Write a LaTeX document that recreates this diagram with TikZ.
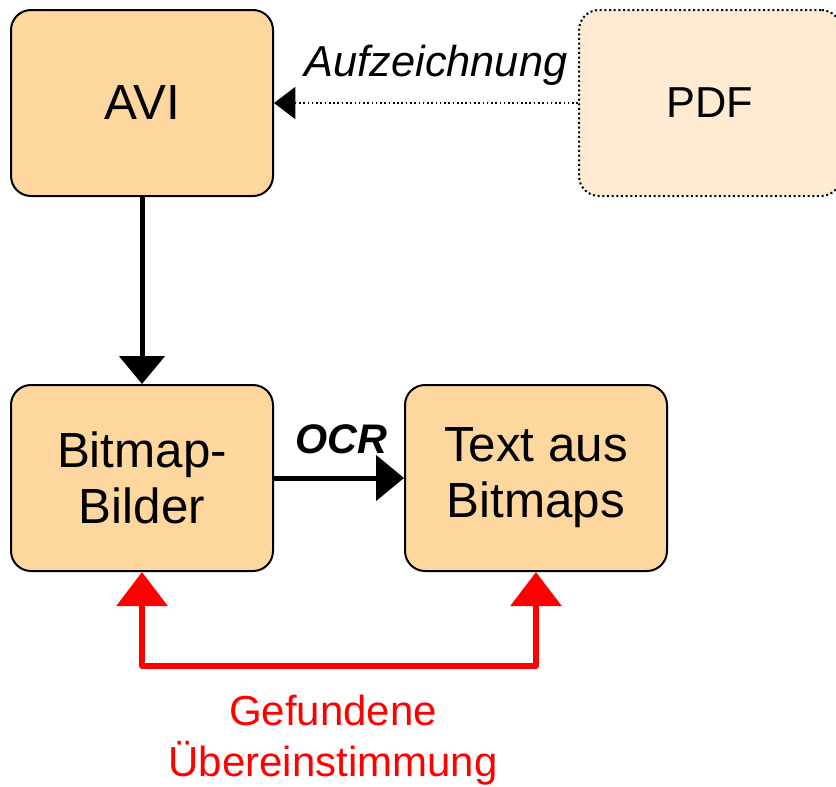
\documentclass[tikz,border=0pt]{standalone}
\usepackage{fontspec}
\setmainfont{Liberation Sans}
\usetikzlibrary{arrows.meta,positioning}
\definecolor{boxfill}{RGB}{253,215,157}
\definecolor{pdffill}{RGB}{255,235,209}
\tikzstyle{stage}=[draw=black,line width=1.5pt,fill=boxfill,rounded corners=15pt,minimum width=196.5pt,minimum height=139.5pt,inner sep=0pt,align=center,font=\fontsize{37}{42}\selectfont]
\tikzstyle{source}=[stage,fill=pdffill,dotted,font=\fontsize{32.5}{38}\selectfont]
\tikzstyle{flow}=[line width=3.75pt,-{Triangle[width=33.75pt,length=21pt]}]
\tikzstyle{record}=[line width=1.2pt,dotted,-{Triangle[width=24pt,length=16pt]}]
\tikzstyle{match}=[red,line width=4.5pt,line join=round,{Triangle[width=37.5pt,length=25.5pt]}-{Triangle[width=37.5pt,length=25.5pt]}]
\tikzstyle{lbl}=[font=\fontsize{31.5}{38}\selectfont,align=center]

\begin{document}
\begin{tikzpicture}[x=0.75pt,y=-0.75pt]
	\useasboundingbox (0,0) rectangle (836,786);
	% boxes
	\node[stage] (avi) at (142,103) {AVI};
	\node[source] (pdf) at (710,103) {PDF};
	\node[stage] (bmp) at (142,478) {Bitmap-\\Bilder};
	\node[stage] (txt) at (536,478) {Text aus\\Bitmaps};
	% connectors
	\draw[record] (pdf.west) -- node[lbl,above=9pt,xshift=7.5pt,font=\fontsize{32.5}{38}\selectfont\itshape] (aufz) {Aufzeichnung} (avi.east);
	\draw[flow] (bmp.east) -- node[lbl,above=13pt,xshift=2pt,font=\fontsize{31}{36}\selectfont\bfseries\itshape] (ocr) {OCR} (txt.west);
	\draw[flow] (avi.south) -- (bmp.north);
	\draw[match] (bmp.south) -- ++(0,94) -| (txt.south);
	\node[lbl,red] (treffer) at (333,740) {Gefundene\\Übereinstimmung};
\end{tikzpicture}
\end{document}
